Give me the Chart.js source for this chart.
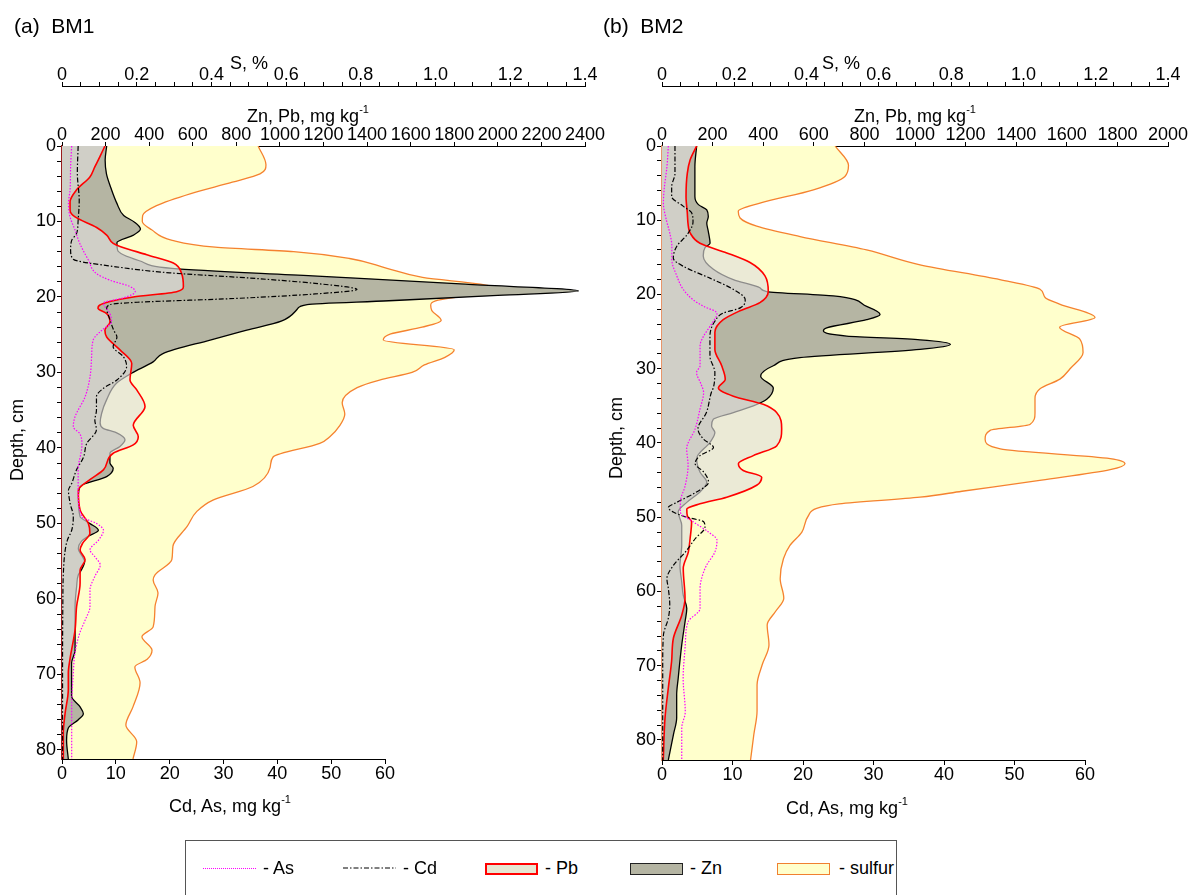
<!DOCTYPE html>
<html>
<head>
<meta charset="utf-8">
<script src="https://cdn.jsdelivr.net/npm/chart.js@4.4.1/dist/chart.umd.min.js"></script>
<style>
body { margin:0; width:1192px; height:895px; overflow:hidden; background:#fff; position:relative;
       font-family:"Liberation Sans", Arial, sans-serif; color:#000; }
canvas { position:absolute; top:0; }
.t { position:absolute; white-space:pre; font-size:18px; line-height:18px; transform:translate(-50%,-50%); }
.t sup { font-size:11px; position:relative; top:-2px; }
.panel { position:absolute; font-size:21px; line-height:21px; white-space:pre; }
.rot { transform:translate(-50%,-50%) rotate(-90deg); }
#legend { position:absolute; left:185px; top:840px; width:712px; height:60px; border:1px solid #555; box-sizing:border-box; }
.lt { position:absolute; font-size:18px; line-height:18px; top:859px; white-space:pre; }
.sw { position:absolute; top:863px; width:53px; height:12px; box-sizing:border-box; }
</style>
</head>
<body>
<canvas id="bm1" width="620" height="830" style="left:0"></canvas>
<canvas id="bm2" width="600" height="830" style="left:600px"></canvas>

<div class="panel" style="left:14px; top:15px">(a)  BM1</div>
<div class="panel" style="left:603px; top:15px">(b)  BM2</div>

<div class="t" style="left:249px; top:63px">S, %</div>
<div class="t" style="left:308px; top:113px">Zn, Pb, mg kg<sup>-1</sup></div>
<div class="t" style="left:230px; top:803px">Cd, As, mg kg<sup>-1</sup></div>
<div class="t rot" style="left:17px; top:440px">Depth, cm</div>

<div class="t" style="left:841px; top:63px">S, %</div>
<div class="t" style="left:915px; top:113px">Zn, Pb, mg kg<sup>-1</sup></div>
<div class="t" style="left:847px; top:805px">Cd, As, mg kg<sup>-1</sup></div>
<div class="t rot" style="left:616px; top:438px">Depth, cm</div>

<div id="legend"></div>
<div style="position:absolute; left:203px; top:868px; width:53px; border-top:1px dotted #ff00ff"></div>
<div class="lt" style="left:263px">- As</div>
<svg style="position:absolute; left:343px; top:866px" width="53" height="4"><line x1="0" y1="2" x2="53" y2="2" stroke="#000" stroke-width="1" stroke-dasharray="5 2 1.5 2"/></svg>
<div class="lt" style="left:403px">- Cd</div>
<div class="sw" style="left:485px; background:#e6e6d2; border:2px solid #ff0000"></div>
<div class="lt" style="left:545px">- Pb</div>
<div class="sw" style="left:630px; background:#b5b5a3; border:1.5px solid #222"></div>
<div class="lt" style="left:690px">- Zn</div>
<div class="sw" style="left:777px; background:#ffffcc; border:1.5px solid #f08030"></div>
<div class="lt" style="left:839px">- sulfur</div>

<script>
// ---- BM1 ----
const bm1SulfurDepth = [0, 2.5, 3.7, 4.8, 6.3, 7.9, 9.2, 10.0, 11.1, 12.5, 13.4, 14.0, 14.9, 16.2, 17.4, 18.3, 19.0, 19.8, 20.5, 21.1, 21.8, 23.1, 24.0, 24.9, 25.7, 27.0, 28.0, 29.0, 30.0, 31.0, 32.0, 34.0, 35.5, 37.0, 38.5, 39.4, 41.2, 42.6, 45.1, 46.9, 48.4, 50.4, 53.0, 54.8, 56.8, 57.5, 59.2, 61.0, 63.7, 65.0, 66.8, 68.0, 69.0, 71.1, 74.3, 76.7, 78.9, 81.2];
const bm1Sulfur = [0.525, 0.546, 0.530, 0.456, 0.345, 0.253, 0.216, 0.215, 0.240, 0.295, 0.410, 0.620, 0.770, 0.870, 0.965, 1.120, 1.180, 1.090, 1.000, 0.987, 0.990, 1.015, 0.964, 0.880, 0.860, 1.050, 1.025, 0.970, 0.937, 0.850, 0.790, 0.750, 0.757, 0.744, 0.717, 0.690, 0.565, 0.557, 0.511, 0.404, 0.361, 0.335, 0.297, 0.294, 0.249, 0.244, 0.257, 0.249, 0.244, 0.214, 0.241, 0.228, 0.195, 0.209, 0.190, 0.171, 0.200, 0.190];

const bm1ZnDepth = [0, 1.9, 3.7, 5.6, 7.6, 9.2, 10.1, 11.0, 11.8, 12.8, 13.8, 15.2, 16.2, 17.2, 18.3, 19.2, 19.8, 20.5, 21.0, 21.6, 23.2, 24.4, 25.7, 27.5, 28.6, 30.1, 31.4, 33.6, 35.4, 36.7, 37.4, 38.0, 38.9, 39.8, 40.7, 42.0, 42.7, 43.8, 45.1, 46.5, 49.1, 50.0, 50.9, 51.7, 52.4, 53.3, 54.6, 55.0, 56.2, 56.8, 58.4, 61.0, 64.5, 66.8, 68.5, 72.9, 74.3, 75.2, 76.0, 77.1, 78.7, 81.2];
const bm1Zn = [205, 198, 204, 225, 252, 283, 333, 360, 328, 252, 255, 355, 505, 1150, 1850, 2370, 2000, 1500, 1125, 1080, 1006, 848, 680, 463, 418, 319, 251, 205, 182, 175, 189, 251, 289, 266, 220, 220, 235, 205, 83, 75, 83, 128, 167, 120, 88, 75, 98, 104, 88, 75, 67, 60, 60, 60, 44, 44, 83, 98, 75, 29, 21, 29];

const bm1PbDepth = [0, 1.4, 2.8, 4.1, 5.8, 7.4, 8.5, 9.4, 10.8, 11.8, 12.9, 13.3, 14.4, 15.5, 16.9, 18.6, 19.3, 20.0, 20.6, 21.1, 21.5, 22.2, 23.3, 24.4, 25.3, 27.0, 28.8, 31.0, 32.3, 34.5, 37.0, 38.5, 39.6, 40.7, 42.9, 44.2, 45.6, 48.2, 50.0, 51.3, 52.6, 53.5, 54.8, 56.2, 57.9, 61.0, 64.1, 67.9, 69.8, 72.0, 75.2, 77.8, 81.2];
const bm1Pb = [197, 174, 150, 128, 67, 37, 37, 60, 159, 205, 235, 266, 389, 511, 549, 557, 526, 327, 220, 172, 165, 205, 220, 197, 205, 266, 320, 312, 343, 381, 327, 350, 327, 235, 190, 128, 75, 83, 121, 128, 95, 83, 106, 83, 83, 67, 60, 37, 29, 29, 14, 6, 6];

const bm1CdDepth = [0, 3.6, 7.2, 9.8, 11.6, 12.5, 13.8, 15.0, 16.0, 16.8, 17.5, 18.2, 19.0, 19.6, 20.2, 20.7, 21.0, 21.5, 23.0, 24.4, 25.3, 26.6, 27.9, 29.2, 31.0, 32.1, 33.2, 35.0, 36.3, 37.6, 39.4, 41.2, 42.9, 44.7, 45.6, 47.3, 49.1, 50.9, 52.2, 53.5, 56.6, 61.0, 70.0, 81.2];
const bm1Cd = [3.0, 2.85, 3.2, 3.0, 2.7, 1.8, 1.6, 2.1, 10.0, 20.0, 35.0, 47.0, 54.8, 47.0, 32.0, 14.0, 9.0, 8.3, 8.9, 9.6, 10.2, 9.5, 11.4, 12.0, 10.2, 7.7, 6.4, 6.4, 6.1, 6.4, 4.6, 4.0, 2.7, 1.8, 1.2, 1.5, 2.1, 1.8, 1.0, 0.6, 0.25, 0.15, 0.1, 0.1];

const bm1AsDepth = [0, 2.7, 5.8, 7.6, 9.4, 11.1, 12.9, 15.1, 16.9, 17.8, 18.6, 19.3, 20.1, 20.8, 22.2, 23.3, 24.4, 25.7, 27.9, 30.6, 33.2, 35.9, 37.2, 38.1, 39.6, 42.9, 45.6, 49.1, 50.0, 50.9, 52.2, 53.5, 54.4, 55.5, 57.0, 58.8, 61.0, 62.8, 64.5, 67.2, 69.8, 74.3, 81.2];
const bm1As = [1.8, 1.6, 1.5, 1.2, 1.5, 2.4, 3.3, 4.9, 6.4, 9.0, 12.6, 13.6, 11.5, 7.7, 8.9, 9.2, 7.4, 5.8, 5.5, 5.2, 4.3, 2.4, 2.1, 3.3, 3.7, 3.0, 3.0, 3.7, 6.4, 7.7, 6.8, 5.2, 6.1, 7.1, 6.1, 5.2, 5.2, 4.3, 3.3, 2.4, 2.1, 1.8, 1.8];

// ---- BM2 ----
const bm2SulfurDepth = [0, 2.6, 4.1, 5.9, 7.7, 8.8, 9.7, 10.8, 12.2, 14.0, 16.0, 18.0, 19.3, 20.4, 21.3, 23.1, 24.4, 26.0, 27.8, 30.0, 31.4, 32.7, 34.0, 36.0, 37.5, 38.3, 39.5, 40.8, 42.1, 42.8, 43.6, 45.0, 46.5, 47.3, 48.2, 48.8, 49.8, 52.0, 53.8, 55.6, 58.3, 60.9, 62.7, 64.5, 67.2, 69.9, 72.6, 76.1, 79.3, 82.7];
const bm2Sulfur = [0.479, 0.516, 0.506, 0.419, 0.271, 0.211, 0.216, 0.262, 0.382, 0.566, 0.714, 0.935, 1.046, 1.060, 1.100, 1.198, 1.100, 1.156, 1.165, 1.129, 1.101, 1.046, 1.032, 1.032, 1.018, 0.908, 0.894, 0.936, 1.240, 1.281, 1.240, 1.050, 0.830, 0.714, 0.490, 0.428, 0.405, 0.387, 0.354, 0.336, 0.327, 0.337, 0.314, 0.291, 0.296, 0.277, 0.263, 0.263, 0.254, 0.245];

const bm2ZnDepth = [0, 2.8, 6.8, 7.9, 8.6, 9.5, 10.4, 11.5, 13.1, 13.7, 14.8, 16.6, 18.0, 19.1, 19.6, 20.2, 21.6, 22.7, 23.4, 24.5, 24.9, 25.6, 26.1, 26.7, 27.4, 28.5, 29.6, 31.0, 32.6, 34.1, 35.0, 35.9, 36.8, 37.7, 38.6, 39.9, 42.1, 43.9, 45.3, 46.6, 48.0, 49.3, 51.1, 53.8, 56.5, 58.7, 60.5, 62.3, 64.1, 67.2, 71.7, 73.9, 77.0, 79.3, 82.7];
const bm2Zn = [137, 130, 130, 144, 177, 183, 177, 183, 190, 170, 163, 203, 282, 387, 414, 677, 809, 862, 809, 651, 638, 730, 1020, 1140, 1020, 545, 440, 390, 440, 414, 361, 282, 203, 196, 209, 190, 137, 150, 177, 150, 98, 64, 78, 78, 71, 78, 84, 98, 91, 78, 64, 58, 58, 45, 25];

const bm2PbDepth = [0, 1.9, 3.7, 6.8, 9.0, 10.8, 11.7, 13.1, 14.4, 15.7, 17.5, 19.6, 21.1, 22.2, 23.4, 25.1, 27.4, 29.6, 31.4, 32.6, 33.7, 34.8, 35.9, 38.1, 40.4, 41.7, 42.8, 43.7, 44.6, 45.7, 47.3, 48.2, 48.9, 49.8, 50.6, 52.9, 54.7, 56.9, 60.9, 63.2, 66.3, 69.4, 73.0, 77.0, 82.7];
const bm2Pb = [137, 111, 100, 95, 100, 104, 111, 150, 256, 348, 407, 420, 387, 308, 242, 209, 209, 236, 250, 223, 282, 400, 453, 473, 453, 361, 302, 321, 394, 374, 256, 150, 98, 100, 117, 111, 104, 84, 91, 78, 45, 38, 25, 12, 5];

const bm2CdDepth = [0, 3.7, 5.5, 6.8, 8.1, 9.0, 10.2, 11.9, 13.5, 15.1, 16.2, 17.8, 19.3, 20.7, 21.8, 22.5, 23.6, 25.6, 28.3, 30.5, 32.5, 33.2, 35.9, 38.1, 39.5, 40.6, 41.7, 42.8, 43.9, 45.3, 46.6, 48.0, 48.7, 49.3, 50.0, 50.6, 51.3, 52.9, 54.7, 56.5, 58.3, 59.6, 61.8, 63.6, 65.9, 70.0, 82.7];
const bm2Cd = [1.84, 1.84, 1.37, 1.37, 3.0, 4.2, 4.4, 3.6, 2.1, 1.6, 3.0, 6.8, 10.1, 11.8, 11.1, 8.7, 7.5, 6.8, 6.8, 7.5, 7.3, 7.0, 6.3, 5.1, 5.9, 7.3, 5.4, 4.7, 5.9, 6.6, 4.9, 2.1, 0.9, 1.6, 3.5, 5.9, 6.1, 4.7, 3.3, 1.6, 0.7, 0.9, 1.1, 0.9, 0.2, 0.1, 0.1];

const bm2AsDepth = [0, 2.8, 5.9, 7.7, 9.9, 11.7, 13.5, 15.3, 17.5, 19.3, 20.7, 21.6, 22.5, 24.3, 25.6, 26.9, 29.6, 30.5, 32.0, 33.2, 35.4, 38.1, 40.8, 43.0, 45.7, 48.0, 49.3, 50.6, 52.0, 53.1, 54.7, 56.5, 58.3, 59.6, 62.3, 64.1, 67.2, 71.7, 76.2, 78.4, 82.7];
const bm2As = [0.9, 0.7, 0.3, 0.2, 0.6, 1.1, 1.4, 1.4, 2.1, 3.0, 4.4, 5.9, 7.8, 6.8, 5.9, 5.4, 5.4, 4.9, 5.5, 5.9, 5.4, 4.7, 3.5, 3.7, 3.3, 2.6, 2.6, 4.4, 6.6, 7.8, 7.5, 6.3, 5.6, 5.4, 5.4, 3.7, 3.3, 3.0, 3.3, 2.8, 2.8];

// ---- ticks ----
const sMajor = [0, 0.2, 0.4, 0.6, 0.8, 1.0, 1.2, 1.4];
const sLabels = ['0', '0.2', '0.4', '0.6', '0.8', '1.0', '1.2', '1.4'];
const znTicksBM1 = [0, 200, 400, 600, 800, 1000, 1200, 1400, 1600, 1800, 2000, 2200, 2400];
const znTicksBM2 = [0, 200, 400, 600, 800, 1000, 1200, 1400, 1600, 1800, 2000];
const cdTicks = [0, 10, 20, 30, 40, 50, 60];

const sTicks = [];
for (let i = 0; i <= 28; i++) sTicks.push(Math.round(i * 5) / 100);
const depthTicks = [];
for (let d = 0; d <= 80; d += 2) depthTicks.push(d);

function pts(depth, vals) {
  return depth.map((d, i) => ({ x: vals[i], y: d }));
}

const tickFont = { family: 'Liberation Sans', size: 18 };

// axis line for Cd/As only from 0 to 60
const cdAxisLine = {
  id: 'cdAxisLine',
  afterDraw(chart) {
    const s = chart.scales.xc;
    const ctx = chart.ctx;
    ctx.save();
    ctx.strokeStyle = '#000';
    ctx.lineWidth = 1;
    ctx.beginPath();
    ctx.moveTo(s.getPixelForValue(0), s.top + 0.5);
    ctx.lineTo(s.getPixelForValue(60), s.top + 0.5);
    ctx.stroke();
    ctx.restore();
  }
};

function makeProfile(id, p) {
  const grid = { drawOnChartArea: false, drawTicks: true, color: '#000' };
  return new Chart(document.getElementById(id), {
    type: 'line',
    data: {
      datasets: [
        { label: 'As', data: pts(p.asD, p.as), xAxisID: 'xc', yAxisID: 'y',
          borderColor: '#ff00ff', borderWidth: 1.2, borderDash: [1.5, 1.5], fill: false },
        { label: 'Cd', data: pts(p.cdD, p.cd), xAxisID: 'xc', yAxisID: 'y',
          borderColor: '#000', borderWidth: 1.2, borderDash: [5, 2, 1.5, 2], fill: false },
        { label: 'Pb', data: pts(p.pbD, p.pb), xAxisID: 'xz', yAxisID: 'y',
          borderColor: '#ff0000', borderWidth: 1.6, backgroundColor: 'rgba(224,222,220,0.63)', fill: 'origin' },
        { label: 'Zn', data: pts(p.znD, p.zn), xAxisID: 'xz', yAxisID: 'y',
          borderColor: '#000', borderWidth: 1.3, backgroundColor: '#b5b5a3', fill: 'origin' },
        { label: 'sulfur', data: pts(p.sD, p.s), xAxisID: 'xs', yAxisID: 'y',
          borderColor: '#f5822f', borderWidth: 1.3, backgroundColor: '#ffffcc', fill: 'origin' }
      ]
    },
    options: {
      responsive: false,
      animation: false,
      events: [],
      indexAxis: 'y',
      devicePixelRatio: 1,
      layout: { padding: { left: 0, top: 56, right: p.padRight, bottom: 0 } },
      elements: { point: { radius: 0 }, line: { cubicInterpolationMode: 'monotone' } },
      plugins: { legend: { display: false }, tooltip: { enabled: false } },
      scales: {
        y: {
          type: 'linear', axis: 'y', position: 'left', reverse: true, min: 0, max: p.depthMax,
          afterBuildTicks: s => { s.ticks = depthTicks.map(v => ({ value: v })); },
          afterFit: s => { s.width = 62; s.paddingTop = 0; s.paddingBottom = 0; },
          ticks: { autoSkip: false, padding: 1, font: tickFont, color: '#000',
                   callback: v => (Math.round(v) % 10 === 0 ? String(Math.round(v)) : '') },
          grid: Object.assign({ tickLength: 5 }, grid),
          border: { display: true, color: p.axisColor, width: 1.2 }
        },
        xs: {
          type: 'linear', axis: 'x', position: 'top', weight: 1, min: 0, max: 1.4,
          afterBuildTicks: s => { s.ticks = sTicks.map(v => ({ value: v })); },
          afterFit: s => { s.height = 30; s.paddingLeft = 0; s.paddingRight = 0; },
          ticks: { autoSkip: false, maxRotation: 0, padding: -4, font: tickFont, color: '#000',
                   callback: v => { const k = sMajor.findIndex(m => Math.abs(m - v) < 1e-6); return k >= 0 ? sLabels[k] : ''; } },
          grid: Object.assign({ tickLength: 4 }, grid),
          border: { display: true, color: '#000', width: 1 }
        },
        xz: {
          type: 'linear', axis: 'x', position: 'top', weight: 0, min: 0, max: p.znMax,
          afterBuildTicks: s => { s.ticks = p.znTicks.map(v => ({ value: v })); },
          afterFit: s => { s.height = 60; s.paddingLeft = 0; s.paddingRight = 0; },
          ticks: { autoSkip: false, maxRotation: 0, padding: -4, font: tickFont, color: '#000',
                   callback: v => String(v) },
          grid: Object.assign({ tickLength: 4 }, grid),
          border: { display: true, color: '#000', width: 1 }
        },
        xc: {
          type: 'linear', axis: 'x', position: 'bottom', min: 0, max: p.cdMax,
          afterBuildTicks: s => { s.ticks = cdTicks.map(v => ({ value: v })); },
          afterFit: s => { s.height = p.bottomH; s.paddingLeft = 0; s.paddingRight = 0; },
          ticks: { autoSkip: false, maxRotation: 0, padding: -1, font: tickFont, color: '#000',
                   callback: v => String(v) },
          grid: Object.assign({ tickLength: 5 }, grid),
          border: { display: false }
        }
      }
    },
    plugins: [cdAxisLine]
  });
}

makeProfile('bm1', {
  sD: bm1SulfurDepth, s: bm1Sulfur, znD: bm1ZnDepth, zn: bm1Zn, pbD: bm1PbDepth, pb: bm1Pb,
  cdD: bm1CdDepth, cd: bm1Cd, asD: bm1AsDepth, as: bm1As,
  depthMax: 81.2, znMax: 2400, znTicks: znTicksBM1, cdMax: 60 * 523 / 323,
  padRight: 35, bottomH: 71, axisColor: '#9a1c1c'
});

makeProfile('bm2', {
  sD: bm2SulfurDepth, s: bm2Sulfur, znD: bm2ZnDepth, zn: bm2Zn, pbD: bm2PbDepth, pb: bm2Pb,
  cdD: bm2CdDepth, cd: bm2Cd, asD: bm2AsDepth, as: bm2As,
  depthMax: 82.7, znMax: 2000, znTicks: znTicksBM2, cdMax: 60 * 506 / 423,
  padRight: 32, bottomH: 70, axisColor: '#e8956a'
});
</script>
</body>
</html>
